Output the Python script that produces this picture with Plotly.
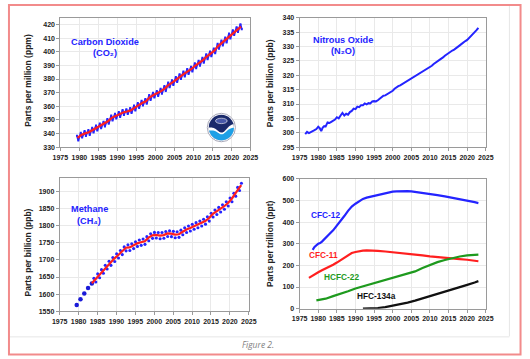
import numpy as np
import plotly.graph_objects as go

W, H = 530, 359
def px(x): return x / W
def py(y): return 1 - y / H

# ---------------- DATA ----------------
# Carbon dioxide (ppm)
co2_years = list(range(1979, 2023))
co2_trend = [336.8, 338.9, 340.1, 340.9, 342.6, 344.2, 345.7, 347.0, 349.0, 351.5,
             352.9, 354.1, 355.5, 356.2, 357.0, 358.8, 360.7, 362.4, 363.7, 366.6,
             368.3, 369.5, 371.1, 373.2, 375.8, 377.5, 379.8, 381.9, 383.8, 385.6,
             387.4, 389.9, 391.7, 393.9, 396.5, 398.6, 400.8, 404.2, 406.6, 408.7,
             411.7, 414.2, 416.4, 418.5]
co2_peak = [338.4, 340.6, 341.8, 342.6, 344.3, 345.9, 347.4, 348.7, 350.7, 353.2,
            354.6, 355.8, 357.2, 357.9, 358.7, 360.5, 362.4, 364.1, 365.4, 368.3,
            370.0, 371.2, 372.8, 374.9, 377.5, 379.2, 381.5, 383.6, 385.5, 387.3,
            389.1, 391.6, 393.4, 395.6, 398.2, 400.3, 402.5, 405.9, 408.3, 410.4,
            413.4, 415.9, 418.1, 420.2]
co2_trough = [334.9, 337.0, 338.2, 339.0, 340.7, 342.3, 343.8, 345.1, 347.1, 349.6,
              351.0, 352.2, 353.6, 354.3, 355.1, 356.9, 358.8, 360.5, 361.8, 364.7,
              366.4, 367.6, 369.2, 371.3, 373.9, 375.6, 377.9, 380.0, 381.9, 383.7,
              385.5, 388.0, 389.8, 392.0, 394.6, 396.7, 398.9, 402.3, 404.7, 406.8,
              409.8, 412.3, 414.5, 416.6]

# Nitrous oxide (ppb)
n2o_x = [1976.5, 1977.0, 1977.5, 1978.0, 1978.5, 1979.0, 1979.5, 1980.0, 1980.4, 1980.8,
         1981.2, 1981.6, 1982.0, 1982.5, 1983.0, 1983.5, 1984.0, 1984.5, 1985.0, 1985.5,
         1986.0, 1986.5, 1987.0, 1987.5, 1988.0, 1988.5, 1989.0, 1989.5, 1990.0, 1990.5,
         1991.0, 1991.5, 1992.0, 1992.5, 1993.0, 1993.5, 1994.0, 1994.5, 1995.0, 1995.5,
         1996.0, 1996.5, 1997.0, 1997.5, 1998.0, 1998.5, 1999.0, 1999.5, 2000.0, 2000.5,
         2001.0, 2001.5, 2002.0, 2002.5, 2003.0, 2003.5, 2004.0, 2004.5, 2005.0, 2005.5,
         2006.0, 2006.5, 2007.0, 2007.5, 2008.0, 2008.5, 2009.0, 2009.5, 2010.0, 2010.5,
         2011.0, 2011.5, 2012.0, 2012.5, 2013.0, 2013.5, 2014.0, 2014.5, 2015.0, 2015.5,
         2016.0, 2016.5, 2017.0, 2017.5, 2018.0, 2018.5, 2019.0, 2019.5, 2020.0, 2020.5,
         2021.0, 2021.5, 2022.0, 2022.5, 2023.0]
n2o_val = [299.5, 300.3, 299.9, 300.4, 300.6, 300.9, 301.3, 302.1, 301.6, 300.6,
           301.8, 302.3, 302.2, 303.6, 303.4, 303.8, 304.2, 304.6, 305.4, 305.0,
           306.0, 306.9, 306.0, 306.6, 306.3, 307.2, 307.6, 308.4, 308.2, 309.1,
           308.9, 309.6, 309.6, 310.2, 309.9, 310.3, 310.2, 310.9, 311.0, 310.9,
           311.3, 311.8, 312.3, 312.9, 313.0, 313.4, 313.7, 314.3, 314.6, 315.3,
           315.9, 316.2, 316.5, 316.9, 317.1, 317.5, 317.8, 318.3, 318.6, 319.1,
           319.6, 320.0, 320.3, 320.8, 321.2, 321.7, 322.1, 322.4, 322.7, 323.3,
           323.9, 324.3, 324.8, 325.2, 325.6, 326.2, 326.8, 327.3, 327.9, 328.2,
           328.6, 328.9, 329.3, 329.7, 330.4, 330.9, 331.5, 331.9, 332.3, 332.9,
           333.6, 334.3, 335.0, 335.7, 336.5]

# Methane (ppb)
ch4_early_x = [1979.5, 1980.5, 1981.5, 1982.5, 1983.5]
ch4_early = [1568, 1585, 1602, 1618, 1631]
ch4_trend_x = [1983.5, 1984.5, 1985.5, 1986.5, 1987.5, 1988.5, 1989.5, 1990.5, 1991.5,
               1992.5, 1993.5, 1994.5, 1995.5, 1996.5, 1997.5, 1998.5, 1999.5, 2000.5,
               2001.5, 2002.5, 2003.5, 2004.5, 2005.5, 2006.5, 2007.5, 2008.5, 2009.5,
               2010.5, 2011.5, 2012.5, 2013.5, 2014.5, 2015.5, 2016.5, 2017.5, 2018.5,
               2019.5, 2020.5, 2021.5, 2022.5, 2023.0]
ch4_trend = [1632, 1644.5, 1657, 1670, 1682.5, 1693, 1704.5, 1714.5, 1724.5, 1735.5,
             1736.5, 1742, 1748.5, 1751.5, 1754.5, 1765, 1772, 1773, 1771, 1772.5,
             1777.5, 1777, 1774, 1775, 1782.5, 1789, 1793.5, 1798.5, 1803, 1808,
             1813.5, 1822.5, 1834.5, 1842, 1849, 1857, 1866.5, 1879, 1895.5, 1912, 1919]
ch4_peak_years = list(range(1984, 2024))
ch4_peak = [1646, 1659, 1671.5, 1684, 1696, 1707, 1717.5, 1727.5, 1738, 1744,
            1747, 1753, 1758, 1761, 1768, 1776.5, 1780.5, 1780, 1780, 1783,
            1785, 1783.5, 1782.5, 1787, 1794, 1799, 1804, 1809, 1813.5, 1819,
            1826, 1836.5, 1846, 1853.5, 1861, 1870, 1881, 1895, 1912, 1924]
ch4_trough_years = list(range(1984, 2023))
ch4_trough = [1635.5, 1648, 1661, 1673.5, 1684, 1695.5, 1705.5, 1715.5, 1726.5, 1727.5,
              1733, 1739.5, 1742.5, 1745.5, 1756, 1763, 1764, 1762, 1763.5, 1768.5,
              1768, 1765, 1766, 1773.5, 1780, 1784.5, 1789.5, 1794, 1799, 1804.5,
              1813.5, 1825.5, 1833, 1840, 1848, 1857.5, 1870, 1886.5, 1903]

# Halocarbons (ppt)
cfc12_x = [1978.5, 1979, 1980, 1980.5, 1981, 1981.5, 1982, 1983, 1984, 1985, 1986, 1987,
           1988, 1989, 1990, 1991, 1992, 1993, 1994, 1995, 1996, 1997, 1998, 1999, 2000,
           2001, 2002, 2003, 2004, 2005, 2006, 2008, 2010, 2012, 2014, 2016, 2018, 2020,
           2022, 2023]
cfc12 = [272, 285, 300, 303, 310, 318, 325, 345, 362, 383, 405, 428, 452, 472, 485, 497,
         507, 513, 517, 522, 528, 532, 536, 539, 541, 542, 543, 543, 543, 542, 540, 536,
         531, 525, 519, 513, 506, 499, 492, 488]
cfc11_x = [1977.5, 1978, 1979, 1980, 1981, 1982, 1983, 1984, 1985, 1986, 1987, 1988, 1989,
           1990, 1991, 1992, 1993, 1994, 1995, 1996, 1998, 2000, 2002, 2004, 2006, 2008,
           2010, 2012, 2014, 2016, 2018, 2020, 2022, 2023]
cfc11 = [142, 148, 158, 168, 177, 185, 194, 203, 213, 225, 237, 248, 257, 262, 266, 268,
         269, 269, 268, 267, 264, 261, 258, 254, 250, 246, 242, 238, 234, 232, 229, 226,
         222, 219]
hcfc22_x = [1979.5, 1982, 1984, 1985, 1986, 1988, 1990, 1992, 1994, 1996, 1998, 2000, 2002,
            2004, 2006, 2008, 2010, 2012, 2014, 2016, 2018, 2020, 2022, 2023]
hcfc22 = [38, 46, 58, 63, 68, 80, 93, 103, 113, 122, 132, 142, 151, 160, 172, 188, 203,
          215, 225, 234, 241, 246, 249, 250]
hfc134a_x = [1992, 1994, 1996, 1998, 2000, 2002, 2004, 2006, 2008, 2010, 2012, 2014, 2016,
             2018, 2020, 2022, 2023]
hfc134a = [0, 1, 3, 7, 13, 20, 28, 37, 47, 58, 68, 78, 89, 100, 110, 121, 127]

year_ticks = list(range(1975, 2030, 5))

# ---------------- STYLE ----------------
BLUE = "#2424ff"
RED = "#ff1f1f"
GREEN = "#1e9a1e"
BLACK = "#111111"
FONT = "Liberation Sans"

fig = go.Figure()

# CO2
co2_bx, co2_by = [], []
for yr, pk, tr in zip(co2_years, co2_peak, co2_trough):
    co2_bx += [yr + 0.37, yr + 0.72]
    co2_by += [pk, tr]
fig.add_trace(go.Scatter(x=co2_bx, y=co2_by, mode="lines+markers",
                         line=dict(color=BLUE, width=1.8),
                         marker=dict(color=BLUE, size=2, symbol="square"),
                         xaxis="x", yaxis="y"))
fig.add_trace(go.Scatter(x=[y + 0.5 for y in co2_years], y=co2_trend, mode="lines",
                         line=dict(color=RED, width=2.2), xaxis="x", yaxis="y"))

# N2O
fig.add_trace(go.Scatter(x=n2o_x, y=n2o_val, mode="lines",
                         line=dict(color=BLUE, width=2.0), xaxis="x2", yaxis="y2"))

# CH4
fig.add_trace(go.Scatter(x=ch4_early_x, y=ch4_early, mode="markers",
                         marker=dict(color="#1a1ad8", size=4.5), xaxis="x3", yaxis="y3"))
fig.add_trace(go.Scatter(x=[y + 0.05 for y in ch4_peak_years] + [y + 0.55 for y in ch4_trough_years],
                         y=ch4_peak + ch4_trough, mode="markers",
                         marker=dict(color=BLUE, size=3.1), xaxis="x3", yaxis="y3"))
fig.add_trace(go.Scatter(x=ch4_trend_x, y=ch4_trend, mode="lines",
                         line=dict(color=RED, width=2.2), xaxis="x3", yaxis="y3"))

# Halocarbons
for xs, ys, c in [(cfc12_x, cfc12, BLUE), (cfc11_x, cfc11, RED),
                  (hcfc22_x, hcfc22, GREEN), (hfc134a_x, hfc134a, BLACK)]:
    fig.add_trace(go.Scatter(x=xs, y=ys, mode="lines", line=dict(color=c, width=2.2),
                             xaxis="x4", yaxis="y4"))

tickfont = dict(family=FONT, size=7, color="#222", weight="bold")
def xax(dom, anchor):
    return dict(domain=dom, anchor=anchor, range=[1975, 2025], tickvals=year_ticks,
                showline=True, linecolor="#9a9a9a", linewidth=1, mirror=True,
                showgrid=True, gridcolor="#e9e9e9", gridwidth=1, zeroline=False,
                ticks="outside", ticklen=3, tickcolor="#9a9a9a", tickfont=tickfont)
def yax(dom, anchor, rng, t0, dt):
    return dict(domain=dom, anchor=anchor, range=rng, tick0=t0, dtick=dt,
                showline=True, linecolor="#9a9a9a", linewidth=1, mirror=True,
                showgrid=True, gridcolor="#e9e9e9", gridwidth=1, zeroline=False,
                ticks="outside", ticklen=3, tickcolor="#9a9a9a", tickfont=tickfont)

xl1, xr1 = px(54), px(250)
xl2, xr2 = px(300.7), px(492.7)
xl3, xr3 = px(53.3), px(248.3)
fig.update_layout(
    width=W, height=H, margin=dict(l=0, r=0, t=0, b=0),
    paper_bgcolor="white", plot_bgcolor="white", showlegend=False,
    xaxis=xax([xl1, xr1], "y"),
    yaxis=yax([py(146), py(14)], "x", [330, 425], 330, 10),
    xaxis2=xax([xl2, xr2], "y2"),
    yaxis2=yax([py(146), py(14)], "x2", [295, 340], 295, 5),
    xaxis3=xax([xl3, xr3], "y3"),
    yaxis3=yax([py(313.3), py(177.3)], "x3", [1550, 1940], 1550, 50),
    xaxis4=xax([xl2, xr2], "y4"),
    yaxis4=yax([py(310.7), py(178.3)], "x4", [0, 600], 0, 100),
)

ann = []
def text(x, y, s, size, color, angle=0, bold=True, font=FONT):
    ann.append(dict(x=px(x), y=py(y), xref="paper", yref="paper", text=s, showarrow=False,
                    xanchor="center", yanchor="middle", textangle=angle,
                    font=dict(family=font, size=size, color=color,
                              weight="bold" if bold else "normal")))

text(21, 78, "Parts per million (ppm)", 8.5, "#222", -90)
text(271, 81, "Parts per billion (ppb)", 8.5, "#222", -90)
text(21, 253, "Parts per billion (ppb)", 8.5, "#222", -90)
text(270, 244, "Parts per trillion (ppt)", 8.5, "#222", -90)

text(100, 39, "Carbon Dioxide", 9.2, BLUE)
text(100, 50, "(CO\u2082)", 9.2, BLUE)
text(345, 37, "Nitrous Oxide", 9.2, BLUE)
text(345, 48, "(N\u2082O)", 9.2, BLUE)
text(84, 209.5, "Methane", 9.2, BLUE)
text(84, 221, "(CH\u2084)", 9.2, BLUE)
text(327, 215.7, "CFC-12", 8.3, BLUE)
text(325, 255.5, "CFC-11", 8.3, RED)
text(343.5, 278.7, "HCFC-22", 8.3, GREEN)
text(380, 297.7, "HFC-134a", 8.3, BLACK)
text(258, 347, "<i>Figure 2.</i>", 8.5, "#808080", bold=False, font="Open Sans")

shapes = []
# page frame
shapes.append(dict(type="line", xref="paper", yref="paper", x0=px(517), x1=px(517),
                   y0=py(339), y1=py(0), line=dict(color="#e6e6e6", width=1)))
shapes.append(dict(type="line", xref="paper", yref="paper", x0=px(0), x1=px(517),
                   y0=py(339.5), y1=py(339.5), line=dict(color="#e6e6e6", width=1)))
shapes.append(dict(type="rect", xref="paper", yref="paper", x0=px(1), x1=px(528.5),
                   y0=py(357.5), y1=py(1), line=dict(color="#f28b8b", width=2)))

# NOAA logo
cx, cy, R = 220, 126, 13.0
def circ(r, fill, line=None, lw=0):
    shapes.append(dict(type="circle", xref="paper", yref="paper",
                       x0=px(cx - r), x1=px(cx + r), y0=py(cy + r), y1=py(cy - r),
                       fillcolor=fill, line=dict(color=line or fill, width=lw)))
def region_below(f, fill):
    u = np.linspace(-1, 1, 81)
    top = np.sqrt(np.clip(1 - u ** 2, 0, None))
    bot = -top
    up = np.clip(f(u), bot, top)
    pts = list(zip(u, up)) + list(zip(u[::-1], bot[::-1]))
    path = "M " + " L ".join(f"{px(cx + a * R):.5f},{py(cy - b * R):.5f}" for a, b in pts) + " Z"
    shapes.append(dict(type="path", xref="paper", yref="paper", path=path,
                       fillcolor=fill, line=dict(width=0)))

circ(14.5, "white", "#a8a8b8", 1)
circ(R, "#1b2a6b")
region_below(lambda u: 0.15 - 0.55 * np.exp(-((u - 0.05) / 0.5) ** 2) + 0.15 * u, "white")
region_below(lambda u: -0.12 - 0.42 * np.exp(-((u - 0.05) / 0.45) ** 2) + 0.12 * u, "#1ea0e6")
shapes.append(dict(type="circle", xref="paper", yref="paper",
                   x0=px(cx - 6), x1=px(cx + 6), y0=py(cy - 4), y1=py(cy - 9.5),
                   fillcolor="#4858a8", line=dict(color="white", width=0.6)))

fig.update_layout(annotations=ann, shapes=shapes)
fig.write_html("out.html", config={"displayModeBar": False},
               post_script="document.body.style.margin='0px';document.body.style.overflow='hidden';")
